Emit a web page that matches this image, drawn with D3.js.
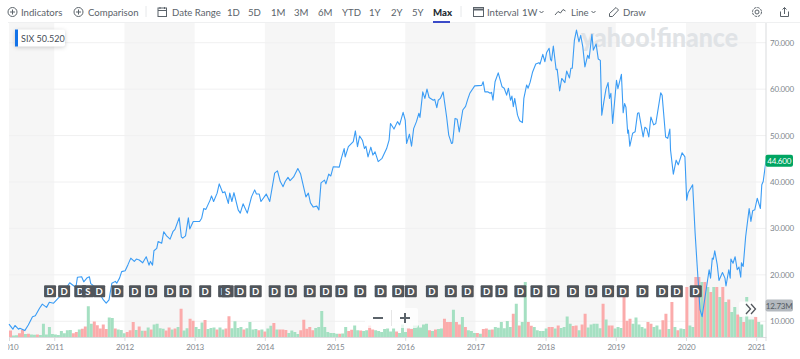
<!DOCTYPE html>
<html>
<head>
<meta charset="utf-8">
<script src="https://cdn.jsdelivr.net/npm/d3@7"></script>
<style>
  html, body { margin: 0; padding: 0; background: #fff; overflow: hidden; }
  svg { display: block; font-family: Lato, "Open Sans", sans-serif; }
  .axis path, .axis line { stroke: #d9dbdd; }
  .axis text { fill: #7f878e; font-size: 8px; letter-spacing: -0.2px; font-family: Lato, sans-serif; }
</style>
</head>
<body>
<div id="chart"></div>
<script>
// weekly close: [decimal year, price]
const priceSeries = [
  [2010.355,9.4],[2010.41,8.3],[2010.44,9.1],[2010.49,8.3],[2010.51,8.5],[2010.58,8.0],[2010.63,9.2],[2010.69,11.0],
  [2010.73,11.2],[2010.79,12.8],[2010.83,13.7],[2010.89,13.0],[2010.93,14.1],[2010.99,13.9],[2011.07,15.2],[2011.13,16.3],
  [2011.22,18.3],[2011.28,17.6],[2011.31,17.5],[2011.33,19.5],[2011.39,19.6],[2011.42,18.5],[2011.47,19.4],[2011.50,19.6],
  [2011.52,18.1],[2011.58,17.4],[2011.65,15.9],[2011.70,14.6],[2011.74,13.9],[2011.78,14.6],[2011.82,18.2],[2011.87,18.6],
  [2011.89,18.2],[2011.93,19.3],[2011.96,20.7],[2012.01,20.9],[2012.05,22.2],[2012.09,23.6],[2012.14,22.9],[2012.17,23.4],
  [2012.21,23.2],[2012.26,22.6],[2012.31,23.9],[2012.35,22.1],[2012.37,22.9],[2012.40,22.1],[2012.42,25.2],[2012.46,25.7],
  [2012.48,27.2],[2012.53,26.8],[2012.56,29.3],[2012.60,28.4],[2012.65,27.7],[2012.69,29.3],[2012.72,29.8],[2012.78,32.3],
  [2012.81,28.2],[2012.83,27.9],[2012.87,28.4],[2012.91,32.3],[2012.93,29.9],[2012.98,31.5],[2013.07,31.5],[2013.10,32.2],
  [2013.13,34.3],[2013.16,34.1],[2013.22,36.1],[2013.24,37.0],[2013.27,35.8],[2013.32,37.6],[2013.35,39.6],[2013.40,37.7],
  [2013.43,37.9],[2013.48,35.4],[2013.50,37.6],[2013.53,35.8],[2013.56,37.7],[2013.62,34.0],[2013.65,33.3],[2013.69,35.3],
  [2013.75,33.3],[2013.81,36.8],[2013.855,38.3],[2013.88,37.4],[2013.92,37.4],[2013.945,35.8],[2014.02,37.4],[2014.07,35.8],
  [2014.14,41.9],[2014.18,42.4],[2014.22,40.1],[2014.26,39.0],[2014.29,40.1],[2014.33,41.0],[2014.36,40.3],[2014.41,41.1],
  [2014.47,42.9],[2014.51,41.7],[2014.56,38.4],[2014.585,36.8],[2014.62,37.6],[2014.65,35.5],[2014.69,34.6],[2014.74,34.8],
  [2014.77,34.0],[2014.80,39.8],[2014.85,40.4],[2014.87,39.6],[2014.91,41.7],[2014.94,41.3],[2014.975,43.3],[2015.06,43.2],
  [2015.09,45.1],[2015.13,47.2],[2015.145,45.4],[2015.19,47.6],[2015.26,48.7],[2015.29,51.0],[2015.32,47.6],[2015.35,49.9],
  [2015.39,49.0],[2015.42,47.2],[2015.44,47.7],[2015.47,45.4],[2015.51,47.5],[2015.54,45.8],[2015.57,46.5],[2015.615,44.4],
  [2015.67,45.1],[2015.735,47.2],[2015.77,49.0],[2015.79,52.6],[2015.84,51.4],[2015.89,53.0],[2015.92,52.3],[2015.97,55.0],
  [2016.00,53.3],[2016.02,48.3],[2016.06,50.3],[2016.09,47.7],[2016.12,51.5],[2016.16,53.0],[2016.195,54.8],[2016.21,53.9],
  [2016.25,59.4],[2016.28,58.0],[2016.31,60.0],[2016.34,58.2],[2016.40,57.6],[2016.42,57.8],[2016.45,56.0],[2016.47,57.6],
  [2016.50,58.0],[2016.54,59.4],[2016.59,54.0],[2016.62,50.1],[2016.66,48.3],[2016.675,48.4],[2016.71,53.7],[2016.74,53.5],
  [2016.77,50.8],[2016.82,55.5],[2016.86,56.3],[2016.89,57.8],[2016.92,59.1],[2016.99,60.7],[2017.09,60.8],[2017.11,61.6],
  [2017.135,59.4],[2017.18,59.4],[2017.21,59.1],[2017.23,59.3],[2017.25,57.6],[2017.28,61.6],[2017.325,63.5],[2017.38,60.5],
  [2017.41,60.2],[2017.445,58.7],[2017.47,60.2],[2017.50,57.6],[2017.52,58.5],[2017.54,56.2],[2017.56,58.0],[2017.60,54.4],
  [2017.63,53.2],[2017.67,52.8],[2017.69,58.0],[2017.73,60.9],[2017.75,60.2],[2017.78,61.5],[2017.815,63.7],[2017.86,65.4],
  [2017.905,65.7],[2017.92,65.4],[2017.96,67.5],[2017.99,65.9],[2018.015,67.9],[2018.05,68.8],[2018.07,66.4],[2018.085,66.1],
  [2018.11,69.3],[2018.15,64.2],[2018.165,64.3],[2018.20,59.6],[2018.23,62.3],[2018.275,61.4],[2018.30,63.9],[2018.34,62.4],
  [2018.36,64.5],[2018.38,64.5],[2018.41,70.5],[2018.44,72.7],[2018.475,70.2],[2018.50,71.6],[2018.53,69.1],[2018.56,64.8],
  [2018.60,67.3],[2018.62,66.6],[2018.66,71.8],[2018.68,68.4],[2018.72,69.7],[2018.75,66.5],[2018.78,66.2],[2018.80,54.4],
  [2018.83,57.3],[2018.86,60.0],[2018.89,61.4],[2018.91,58.0],[2018.93,59.1],[2018.955,52.6],[2019.01,61.9],[2019.03,60.1],
  [2019.08,63.2],[2019.105,54.9],[2019.125,56.9],[2019.145,56.1],[2019.17,50.5],[2019.18,51.2],[2019.20,47.7],[2019.24,50.5],
  [2019.275,50.8],[2019.31,54.8],[2019.33,54.9],[2019.39,49.7],[2019.415,51.8],[2019.44,51.5],[2019.47,49.7],[2019.50,54.0],
  [2019.54,52.3],[2019.57,52.6],[2019.64,59.2],[2019.66,58.7],[2019.71,49.7],[2019.74,49.4],[2019.77,51.4],[2019.78,46.9],
  [2019.82,41.7],[2019.86,44.7],[2019.89,43.7],[2019.945,46.3],[2019.985,45.4],[2020.01,36.1],[2020.03,37.7],[2020.095,39.4],
  [2020.13,29.0],[2020.16,21.8],[2020.20,12.5],[2020.23,11.0],[2020.28,16.1],[2020.33,21.1],[2020.35,19.3],[2020.375,23.6],
  [2020.39,23.4],[2020.41,25.2],[2020.445,22.2],[2020.47,18.8],[2020.52,20.5],[2020.555,19.3],[2020.57,17.6],[2020.61,21.1],
  [2020.63,19.3],[2020.64,23.4],[2020.67,22.5],[2020.70,23.9],[2020.73,21.1],[2020.755,21.7],[2020.78,19.5],[2020.79,22.6],
  [2020.815,21.8],[2020.85,28.2],[2020.90,34.3],[2020.925,31.5],[2020.95,33.8],[2020.98,34.0],[2021.015,36.5],[2021.06,34.3],
  [2021.08,39.4],[2021.10,40.1],[2021.14,44.6]
];

// volume in millions, + up week (green), - down week (red), left to right
const volumes = [
  -2.6,0.6,0.7,-1.5,-2.9,1.2,-1.3,1.0,0.9,-1.0,0.8,5.3,1.0,4.0,1.2,1.0,0.8,2.4,1.5,2.7,2.8,-1.5,-2.0,3.0,-3.3,-4.2,12.3,5.3,-6.2,-4.7,
  -3.4,-5.0,-3.2,7.8,7.6,-3.4,3.0,2.8,1.5,-2.0,-2.7,-6.0,2.8,-4.2,2.5,-2.5,3.8,-3.0,5.0,5.3,3.5,3.3,-2.6,-3.8,3.0,-3.4,4.0,-11.3,2.6,3.5,
  -7.3,-6.5,4.0,3.2,5.8,-6.8,3.2,3.6,3.8,-3.0,3.8,3.0,-3.4,-8.3,3.5,6.3,3.6,4.0,-3.0,3.5,6.0,3.0,3.2,-2.7,3.0,-2.2,3.4,
  4.5,-5.6,3.0,-3.0,-3.0,-2.8,1.6,2.6,2.0,1.2,-2.7,-6.9,-3.3,-4.0,-2.7,3.6,4.0,10.4,4.0,2.0,1.6,1.6,1.3,-1.3,1.4,4.0,-2.4,-2.9,4.6,2.7,
  -2.6,2.4,2.7,-4.6,-3.0,2.7,2.4,2.0,3.2,3.4,2.2,3.4,-2.2,1.6,5.0,2.0,-3.4,-3.2,4.6,4.6,3.8,5.0,5.3,-2.7,2.4,-3.0,3.2,3.4,-7.3,-6.0,
  -6.0,10.9,-6.0,-5.0,8.0,-4.0,2.7,2.4,1.6,-1.6,1.3,-3.2,-3.4,2.9,-3.0,4.0,3.7,6.0,3.5,6.4,4.0,-9.3,13.3,-4.6,6.0,22.0,-6.0,-4.5,4.0,2.7,
  2.4,2.4,3.4,-4.0,-4.0,3.4,-4.6,3.6,4.0,8.2,5.3,-4.4,-4.6,2.7,-5.0,-9.3,3.8,5.0,5.3,5.3,3.5,-13.3,7.0,-4.6,-4.6,3.4,4.0,3.6,-16.6,-6.5,
  -7.3,5.3,7.8,5.0,4.0,3.4,-6.0,-5.3,4.0,4.6,3.0,-6.7,-9.3,3.2,-14.0,4.0,-2.7,3.4,3.2,-20.0,4.6,4.0,
  -24.0,-24.0,22.0,-22.0,20.0,-18.0,20.0,-20.0,16.0,-20.0,14.0,-15.0,10.0,12.0,-9.0,8.0,-6.0,16.0,7.0,7.0,-8.0,6.0,5.0
];

const yearTicks = [2011, 2012, 2013, 2014, 2015, 2016, 2017, 2018, 2019, 2020, 2021];
const shadedYears = [[2010.355, 2011], [2012, 2013], [2014, 2015], [2016, 2017], [2018, 2019], [2020, 2021]];
const priceTicks = [10, 20, 30, 40, 50, 60, 70];
// D = dividend, S = split flags along the time axis
const eventYears = [
  2010.94,2011.14,2011.37,2011.64,2011.90,2012.15,2012.38,2012.65,2012.87,2013.15,2013.42,2013.65,2013.87,
  2014.14,2014.37,2014.64,2014.87,2015.09,2015.36,2015.65,2015.90,2016.08,2016.38,2016.65,2016.89,2017.16,2017.37,
  2017.64,2017.87,2018.11,2018.39,2018.65,2018.89,2019.10,2019.38,2019.66,2019.87,2020.14
];
const splitYears = [2011.48, 2013.47];

const toolbarLeft = [["Indicators",21],["Comparison",88],["Date Range",172],["1D",227],["5D",248],["1M",271],["3M",294],["6M",318],["YTD",342],["1Y",369],["2Y",391],["5Y",412]];
const toolbarRight = [["Interval",487],["1W",522],["Line",571],["Draw",623]];

const W = 800, H = 359;
const plot = { left: 9, right: 766, top: 23, bottom: 337 };

const svg = d3.select("#chart").append("svg").attr("width", W).attr("height", H);

const x = d3.scaleLinear().domain([2010.355, 2021.14]).range([plot.left, plot.right]);
const y = d3.scaleLinear().domain([10, 70]).range([321.3, 42.7]);
const vol = d3.scaleLinear().domain([0, 22]).range([plot.bottom, plot.bottom - 55]);
const band = d3.scaleBand().domain(d3.range(volumes.length)).range([x(2010.355), x(2021.1)]).padding(0);

// year shading
svg.append("g").selectAll("rect").data(shadedYears).enter().append("rect")
  .attr("x", d => x(d[0])).attr("width", d => x(d[1]) - x(d[0]))
  .attr("y", plot.top).attr("height", plot.bottom - plot.top)
  .attr("fill", "#f6f6f6");

// grid
svg.append("g").selectAll("line").data(priceTicks).enter().append("line")
  .attr("x1", plot.left).attr("x2", plot.right)
  .attr("y1", d => y(d)).attr("y2", d => y(d))
  .attr("stroke", "#f0f0f1");

// watermark
svg.append("text").attr("x", 581).attr("y", 47)
  .attr("textLength", 157).attr("lengthAdjust", "spacingAndGlyphs")
  .style("font-size", "26px").style("font-weight", 900).attr("fill", "#e0e3e6")
  .text("yahoo!finance");

// volume
svg.append("g").selectAll("rect").data(volumes).enter().append("rect")
  .attr("x", (d, i) => band(i)).attr("width", band.bandwidth())
  .attr("y", d => vol(Math.abs(d))).attr("height", d => vol(0) - vol(Math.abs(d)))
  .attr("fill", d => d >= 0 ? "#a5e0c2" : "#fbabab");

// price line
const line = d3.line().x(d => x(d[0])).y(d => y(d[1]));
svg.append("path").datum(priceSeries)
  .attr("d", line).attr("fill", "none")
  .attr("stroke", "#3a9cf5").attr("stroke-width", 1.1).attr("stroke-linejoin", "round");

// event flags
const flagY = 291.3;
function flag(g, year, label) {
  const cx = x(year);
  g.append("rect").attr("x", cx - 6).attr("y", flagY - 6).attr("width", 12).attr("height", 12)
    .attr("rx", 1).attr("fill", "#50555b");
  g.append("text").attr("x", cx).attr("y", flagY + 3.4).attr("text-anchor", "middle")
    .attr("fill", "#fff").style("font-size", "9.5px").style("font-weight", 700).text(label);
}
const flags = svg.append("g");
eventYears.forEach(d => flag(flags, d, "D"));
splitYears.forEach(d => flag(flags, d, "S"));

// axes
const clip = svg.append("clipPath").attr("id", "plot-clip");
clip.append("rect").attr("x", 8).attr("y", 0).attr("width", W).attr("height", H);

const xAxis = svg.append("g").attr("class", "axis").attr("transform", `translate(0,${plot.bottom})`)
  .call(d3.axisBottom(x).tickValues([2010.355].concat(yearTicks)).tickSize(4).tickSizeOuter(0)
    .tickFormat(d => d < 2011 ? "2010" : String(d)));
xAxis.attr("clip-path", "url(#plot-clip)");
xAxis.selectAll("text").attr("y", 7);

const yAxis = svg.append("g").attr("class", "axis").attr("transform", `translate(${plot.right},0)`)
  .call(d3.axisRight(y).tickValues(priceTicks).tickSize(0).tickPadding(4).tickFormat(d3.format(".3f")));
yAxis.select(".domain").remove();
svg.append("line").attr("x1", plot.right).attr("x2", plot.right)
  .attr("y1", plot.top).attr("y2", plot.bottom + 4).attr("stroke", "#d9dbdd");

// price + volume tags
function tag(yMid, fill, color, label) {
  svg.append("rect").attr("x", 765.5).attr("y", yMid - 6).attr("width", 27.5).attr("height", 12)
    .attr("rx", 2).attr("fill", fill);
  svg.append("text").attr("x", 779.2).attr("y", yMid + 3).attr("text-anchor", "middle")
    .attr("fill", color).style("font-size", "8px").style("letter-spacing", "-0.2px").text(label);
}
tag(y(44.6), "#00a562", "#fff", d3.format(".3f")(44.6));
tag(305.5, "#b4b9bf", "#555c63", "12.73M");

// legend chip
svg.append("rect").attr("x", 15).attr("y", 29.5).attr("width", 50).attr("height", 17).attr("rx", 2)
  .attr("fill", "#fff").style("filter", "drop-shadow(0 1px 2px rgba(0,0,0,.18))");
svg.append("rect").attr("x", 15).attr("y", 29.5).attr("width", 3).attr("height", 17).attr("fill", "#1373e8");
svg.append("text").attr("x", 21).attr("y", 41.5).attr("fill", "#464e56").style("font-size", "9px").text("SIX");
svg.append("text").attr("x", 36.5).attr("y", 41.5).attr("fill", "#464e56").style("font-size", "9px").text("50.520");

// zoom control and scroll button
svg.append("rect").attr("x", 365).attr("y", 308).attr("width", 53).attr("height", 20).attr("rx", 2)
  .attr("fill", "#fff").attr("fill-opacity", 0.75);
svg.append("line").attr("x1", 391.5).attr("x2", 391.5).attr("y1", 310).attr("y2", 326).attr("stroke", "#e6e6e6");
svg.append("path").attr("d", "M373 318H383M400 318H410M405 313V323").attr("stroke", "#5b636a").attr("stroke-width", 2).attr("fill", "none");
svg.append("rect").attr("x", 739).attr("y", 301.5).attr("width", 21).attr("height", 15).attr("rx", 2).attr("fill", "#fff").attr("fill-opacity", 0.9);
svg.append("path").attr("d", "M746 304L750.5 309L746 314M751 304L755.5 309L751 314").attr("stroke", "#50555b").attr("stroke-width", 1.3).attr("fill", "none");

// toolbar
const bar = svg.append("g");
bar.append("line").attr("x1", 8).attr("x2", W).attr("y1", 22.5).attr("y2", 22.5).attr("stroke", "#eff0f1");
const tbText = (s, px) => bar.append("text").attr("x", px).attr("y", 15.8)
  .attr("fill", "#5b636a").style("font-size", "9.6px").text(s);
toolbarLeft.concat(toolbarRight).forEach(d => tbText(d[0], d[1]));
bar.append("text").attr("x", 433).attr("y", 15.8).attr("fill", "#232a31").style("font-size", "9.6px").style("font-weight", 900).text("Max");
bar.append("rect").attr("x", 433).attr("y", 21).attr("width", 17).attr("height", 2).attr("fill", "#3b4bc8");
[146, 461].forEach(d => bar.append("line").attr("x1", d).attr("x2", d).attr("y1", 6).attr("y2", 17).attr("stroke", "#e6e8ea"));

const icons = bar.append("g").attr("fill", "none").attr("stroke", "#5b636a").attr("stroke-width", 1);
[12.5, 78.5].forEach(c => {
  icons.append("circle").attr("cx", c).attr("cy", 12).attr("r", 4.5);
  icons.append("path").attr("d", `M${c - 2.5} 12H${c + 2.5}M${c} 9.5V14.5`);
});
icons.append("rect").attr("x", 158).attr("y", 8).attr("width", 8.5).attr("height", 8.5);
icons.append("path").attr("d", "M158 10.5H166.5M160 7V9M164.5 7V9");
icons.append("rect").attr("x", 473.5).attr("y", 7.5).attr("width", 10).attr("height", 9);
icons.append("path").attr("d", "M473.5 9.5H483.5").attr("stroke-width", 2);
icons.append("path").attr("d", "M555 15L558 11.5L560.5 13L563 9.5L565.5 11");
icons.append("path").attr("d", "M539.5 11L541.5 13L543.5 11M591.5 11L593.5 13L595.5 11");
icons.append("path").attr("d", "M609.5 16.5V13.5L616 7.5L618.5 10L612.5 16.5Z");
icons.append("circle").attr("cx", 757).attr("cy", 12).attr("r", 2);
icons.append("circle").attr("cx", 757).attr("cy", 12).attr("r", 4.5).attr("stroke-dasharray", "2.5 1");
icons.append("path").attr("d", "M780.5 11.5V16.5H788.5V11.5M784.5 14V7.5M782.5 9.5L784.5 7.5L786.5 9.5");
</script>
</body>
</html>
